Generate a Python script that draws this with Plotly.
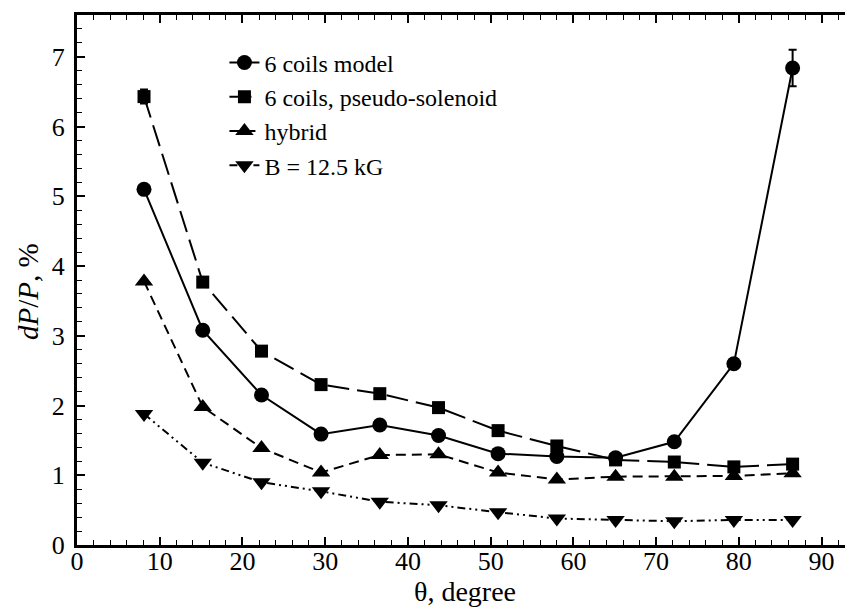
import plotly.graph_objects as go

theta = [8.1, 15.2, 22.3, 29.5, 36.6, 43.7, 50.9, 58.0, 65.1, 72.2, 79.4, 86.5]
coils6 = [5.10, 3.08, 2.15, 1.59, 1.72, 1.57, 1.31, 1.27, 1.25, 1.48, 2.60, 6.84]
coils6_err = [0, 0, 0, 0, 0, 0, 0, 0, 0, 0, 0, 0.26]
pseudo = [6.43, 3.77, 2.78, 2.30, 2.17, 1.97, 1.64, 1.42, 1.22, 1.19, 1.12, 1.16]
pseudo_err = [0.1, 0, 0, 0, 0, 0, 0, 0, 0, 0, 0, 0]
hybrid = [3.78, 1.98, 1.39, 1.04, 1.29, 1.30, 1.04, 0.94, 0.98, 0.98, 0.99, 1.03]
b125 = [1.88, 1.18, 0.90, 0.77, 0.62, 0.57, 0.47, 0.38, 0.36, 0.34, 0.36, 0.36]

FONT = "Liberation Serif"
XTITLE = "θ, degree"
YTITLE = "<i>dP</i>/<i>P</i>, %"

fig = go.Figure()
fig.add_trace(go.Scatter(
    x=theta, y=coils6, name="6 coils model", mode="lines+markers",
    line=dict(color="black", width=2, dash="solid"),
    marker=dict(symbol="circle", size=15, color="black"),
    error_y=dict(type="data", array=coils6_err, visible=True, color="black", thickness=2, width=4)))
fig.add_trace(go.Scatter(
    x=theta, y=pseudo, name="6 coils, pseudo-solenoid", mode="lines+markers",
    line=dict(color="black", width=2, dash="22px,8px"),
    marker=dict(symbol="square", size=13, color="black"),
    error_y=dict(type="data", array=pseudo_err, visible=True, color="black", thickness=2, width=4)))
fig.add_trace(go.Scatter(
    x=theta, y=hybrid, name="hybrid", mode="lines+markers",
    line=dict(color="black", width=2, dash="10px,6px"),
    marker=dict(symbol="triangle-up", size=16, color="black")))
fig.add_trace(go.Scatter(
    x=theta, y=b125, name="B = 12.5 kG", mode="lines+markers",
    line=dict(color="black", width=2, dash="8px,4px,2px,4px,2px,4px"),
    marker=dict(symbol="triangle-down", size=16, color="black")))

fig.update_layout(
    width=853, height=610,
    paper_bgcolor="white", plot_bgcolor="white",
    margin=dict(l=69, r=8, t=4, b=73),
    font=dict(family=FONT, color="black"),
    xaxis=dict(range=[0, 93.8], tick0=0, dtick=10,
               showgrid=False, zeroline=False, showline=True, linecolor="black", linewidth=3,
               mirror="ticks", ticks="inside", ticklen=8, tickwidth=1.5, tickcolor="black",
               tickfont=dict(family=FONT, size=26, color="black"), ticklabelstandoff=-9,
               minor=dict(ticks="inside", ticklen=5, tickwidth=1.2, dtick=2, tickcolor="black")),
    yaxis=dict(range=[0, 7.6], tick0=0, dtick=1,
               showgrid=False, zeroline=False, showline=True, linecolor="black", linewidth=3,
               mirror="ticks", ticks="inside", ticklen=8, tickwidth=1.5, tickcolor="black",
               tickfont=dict(family=FONT, size=26, color="black"), ticklabelstandoff=4,
               minor=dict(ticks="inside", ticklen=5, tickwidth=1.2, dtick=0.2, tickcolor="black")),
    legend=dict(x=0.19, y=0.952, xanchor="left", yanchor="top",
                bgcolor="rgba(0,0,0,0)", font=dict(family=FONT, size=24, color="black"),
                itemwidth=30, tracegroupgap=0),
    showlegend=True,
    annotations=[
        dict(text=XTITLE, xref="paper", yref="paper", x=0.5, y=-0.12,
             xanchor="center", yanchor="bottom", showarrow=False,
             font=dict(family=FONT, size=28, color="black")),
        dict(text=YTITLE, xref="paper", yref="paper", x=-0.064, y=0.478,
             xanchor="center", yanchor="middle", showarrow=False, textangle=-90,
             font=dict(family=FONT, size=29, color="black")),
    ],
)

fig.write_html("out.html")
